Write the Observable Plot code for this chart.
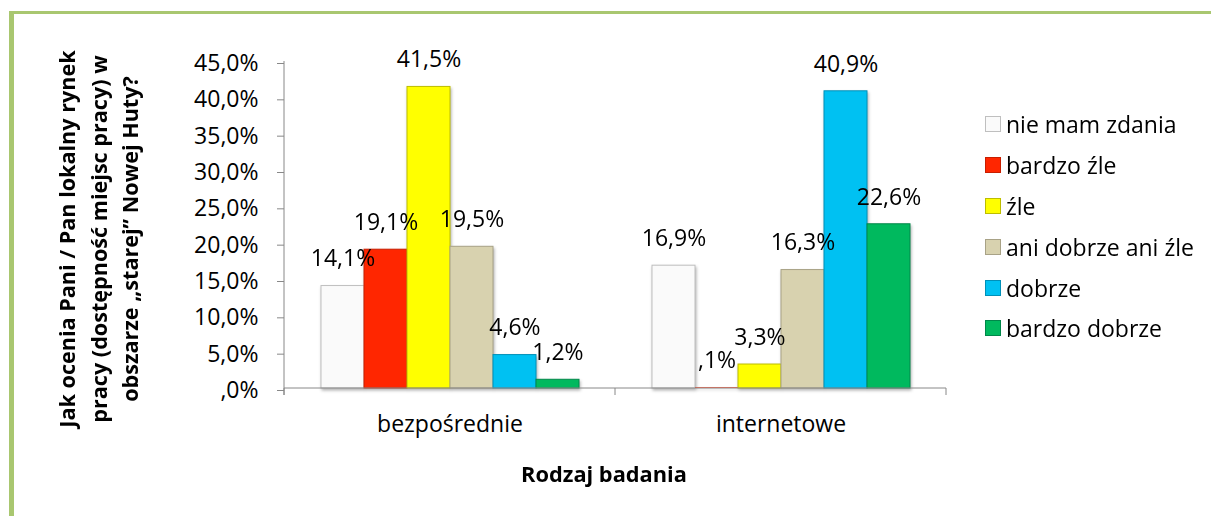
<!DOCTYPE html>
<html>
<head>
<meta charset="utf-8">
<script src="https://cdn.jsdelivr.net/npm/d3@7"></script>
<script src="https://cdn.jsdelivr.net/npm/@observablehq/plot@0.6"></script>
<style>
html, body { margin: 0; padding: 0; background: #fff; }
#wrap { position: relative; width: 1211px; height: 516px; overflow: hidden; font-family: "Open Sans", sans-serif; color: #000; }
#chart { position: absolute; left: 0; top: 0; }
#frame { position: absolute; left: 9px; top: 11px; right: -10px; bottom: -10px; border-left: 5px solid #A9C770; border-top: 3px solid #A9C770; pointer-events: none; }
#ytitle { position: absolute; left: 98px; top: 239px; transform: translate(-50%, -50%) rotate(-90deg); text-align: center; white-space: nowrap; font-weight: 700; font-size: 21.6px; line-height: 31.5px; }
#xtitle { position: absolute; left: 604px; top: 473px; transform: translate(-50%, -50%); white-space: nowrap; font-weight: 700; font-size: 21.8px; }
#legend { position: absolute; left: 985px; top: 104px; font-size: 23px; }
#legend .row { display: flex; align-items: center; height: 40.8px; white-space: nowrap; }
#legend .sw { width: 16px; height: 16px; margin-right: 5px; box-sizing: border-box; border: 1px solid; }
</style>
</head>
<body>
<div id="wrap">
  <div id="chart"></div>
  <div id="frame"></div>
  <div id="ytitle"></div>
  <div id="xtitle"></div>
  <div id="legend"></div>
</div>
<script>
// ---- data ----
const categories = ["bezpośrednie", "internetowe"];
const series = ["nie mam zdania", "bardzo źle", "źle", "ani dobrze ani źle", "dobrze", "bardzo dobrze"];
const valuesBezposrednie = [14.1, 19.1, 41.5, 19.5, 4.6, 1.2];
const valuesInternetowe = [16.9, 0.1, 3.3, 16.3, 40.9, 22.6];
const yTicks = [0, 5, 10, 15, 20, 25, 30, 35, 40, 45];
const fills = ["#FAFAFA", "#FF2600", "#FFFF00", "#D8D2AF", "#00C1F2", "#00B95E"];
const strokes = ["#BFBFBF", "#C81E00", "#BDBD00", "#A8A286", "#0090B8", "#00874A"];
const yTitleLines = ["Jak ocenia Pani / Pan lokalny rynek", "pracy (dostępność miejsc pracy) w", "obszarze „starej” Nowej Huty?"];
const xTitle = "Rodzaj badania";

const seriesValues = [valuesBezposrednie, valuesInternetowe];
const data = categories.flatMap((c, ci) => series.map((s, si) => ({category: c, series: s, value: seriesValues[ci][si]})));
const fmt = v => v.toFixed(1).replace(".", ",").replace(/^0/, "") + "%";

const chart = Plot.plot({
  width: 1211,
  height: 516,
  marginLeft: 283,
  marginRight: 265,
  marginTop: 61,
  marginBottom: 128,
  style: {fontFamily: "Open Sans, sans-serif", fontSize: "23px", color: "#000", background: "transparent", overflow: "visible"},
  fx: {domain: categories, padding: 0, label: null},
  x: {domain: series, paddingInner: 0, paddingOuter: 0.767, axis: null},
  y: {domain: [0, 45], label: null},
  marks: [
    Plot.axisY({ticks: yTicks, tickFormat: fmt, tickSize: 7, tickPadding: 19, label: null, stroke: "#888", fill: "#000", fontSize: 23, dy: 2}),
    Plot.axisFx({anchor: "bottom", tickSize: 0, tickPadding: 27, label: null, fill: "#000", fontSize: 23}),
    Plot.barY(data, {fx: "category", x: "series", y: "value",
      fill: d => fills[series.indexOf(d.series)],
      stroke: d => d.value < 0.5 ? "none" : strokes[series.indexOf(d.series)], strokeWidth: 1}),
    Plot.text(data, {fx: "category", x: "series", y: "value", text: d => fmt(d.value),
      dy: -27, lineAnchor: "middle", fontSize: 23, fill: "#000"})
  ]
});
document.getElementById("chart").appendChild(chart);

// axis lines and category boundary ticks from the Plot scales
const svg = d3.select(chart);
const fxS = chart.scale("fx");
const yS = chart.scale("y");
const y0 = yS.apply(0), yTop = yS.apply(45);
const xL = fxS.apply(categories[0]);
const xR = fxS.apply(categories[categories.length - 1]) + fxS.bandwidth;
const g = svg.append("g").attr("stroke", "#888").attr("stroke-width", 1);
g.append("line").attr("x1", xL).attr("x2", xL).attr("y1", yTop).attr("y2", y0 + 7);
g.append("line").attr("x1", xL).attr("x2", xR).attr("y1", y0).attr("y2", y0);
const bounds = categories.map(c => fxS.apply(c)).concat([xR]);
bounds.forEach(b => g.append("line").attr("x1", b).attr("x2", b).attr("y1", y0).attr("y2", y0 + 7));
svg.selectAll("g[aria-label='bar']").style("filter", "drop-shadow(1.5px 2px 1.5px rgba(0,0,0,0.3))");

// titles
document.getElementById("ytitle").innerHTML = yTitleLines.join("<br>");
document.getElementById("xtitle").textContent = xTitle;

// legend
const leg = document.getElementById("legend");
series.forEach((s, i) => {
  const row = document.createElement("div");
  row.className = "row";
  const sw = document.createElement("div");
  sw.className = "sw";
  sw.style.background = fills[i];
  sw.style.borderColor = strokes[i];
  const t = document.createElement("span");
  t.textContent = s;
  row.appendChild(sw);
  row.appendChild(t);
  leg.appendChild(row);
});
</script>
</body>
</html>
